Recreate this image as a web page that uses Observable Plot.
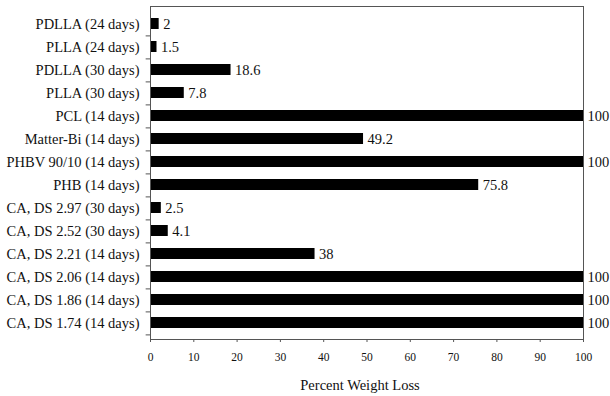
<!DOCTYPE html>
<html>
<head>
<meta charset="utf-8">
<script src="https://cdn.jsdelivr.net/npm/d3@7"></script>
<script src="https://cdn.jsdelivr.net/npm/@observablehq/plot@0.6"></script>
<style>
  html, body { margin: 0; padding: 0; background: #fff; }
  #chart svg { display: block; }
</style>
</head>
<body>
<div id="chart"></div>
<script>
const categories = [
  "PDLLA (24 days)",
  "PLLA (24 days)",
  "PDLLA (30 days)",
  "PLLA (30 days)",
  "PCL (14 days)",
  "Matter-Bi (14 days)",
  "PHBV 90/10 (14 days)",
  "PHB (14 days)",
  "CA, DS 2.97 (30 days)",
  "CA, DS 2.52 (30 days)",
  "CA, DS 2.21 (14 days)",
  "CA, DS 2.06 (14 days)",
  "CA, DS 1.86 (14 days)",
  "CA, DS 1.74 (14 days)"
];
const values = [2, 1.5, 18.6, 7.8, 100, 49.2, 100, 75.8, 2.5, 4.1, 38, 100, 100, 100];
const valueLabels = ["2", "1.5", "18.6", "7.8", "100", "49.2", "100", "75.8", "2.5", "4.1", "38", "100", "100", "100"];
const xTicks = [0, 10, 20, 30, 40, 50, 60, 70, 80, 90, 100];
const xLabel = "Percent Weight Loss";

const data = categories.map((c, i) => ({category: c, value: values[i], label: valueLabels[i]}));

const W = 610, H = 396, mt = 6, mb = 57, ml = 150, mr = 27;
const step = (H - mt - mb) / categories.length;
const font = "'Liberation Serif', 'DejaVu Serif', serif";

const chart = Plot.plot({
  width: W,
  height: H,
  marginTop: mt,
  marginBottom: mb,
  marginLeft: ml,
  marginRight: mr,
  style: {fontFamily: font, background: "#fff", color: "#111"},
  x: {domain: [0, 100], ticks: xTicks, label: null},
  y: {domain: categories, paddingInner: 0.54, paddingOuter: 0.27, label: null},
  marks: [
    Plot.barX(data, {y: "category", x: "value", fill: "#000"}),
    Plot.text(data, {y: "category", x: "value", text: "label", textAnchor: "start", dx: 4, fontSize: 14.5, fill: "#111"}),
    Plot.frame({stroke: "#555", strokeWidth: 1}),
    Plot.ruleY(categories, {y: d => d, x1: -1, x2: 0, dy: step / 2, stroke: "#555", clip: false}),
    Plot.axisY({tickSize: 0, tickPadding: 11, fontSize: 14.5, label: null}),
    Plot.axisX({ticks: xTicks, tickSize: 3, tickPadding: 10, fontSize: 11.5, label: null, stroke: "#555"})
  ]
});
chart.querySelectorAll("text").forEach(t => t.setAttribute("fill", "#111"));
document.getElementById("chart").appendChild(chart);

// Axis title placed below the x axis
const xs = chart.scale("x");
const svg = d3.select(chart);
svg.append("text")
  .attr("x", xs.apply(48.5))
  .attr("y", 390)
  .attr("text-anchor", "middle")
  .attr("font-family", font)
  .attr("font-size", 14.5)
  .attr("fill", "#111")
  .text(xLabel);
</script>
</body>
</html>
